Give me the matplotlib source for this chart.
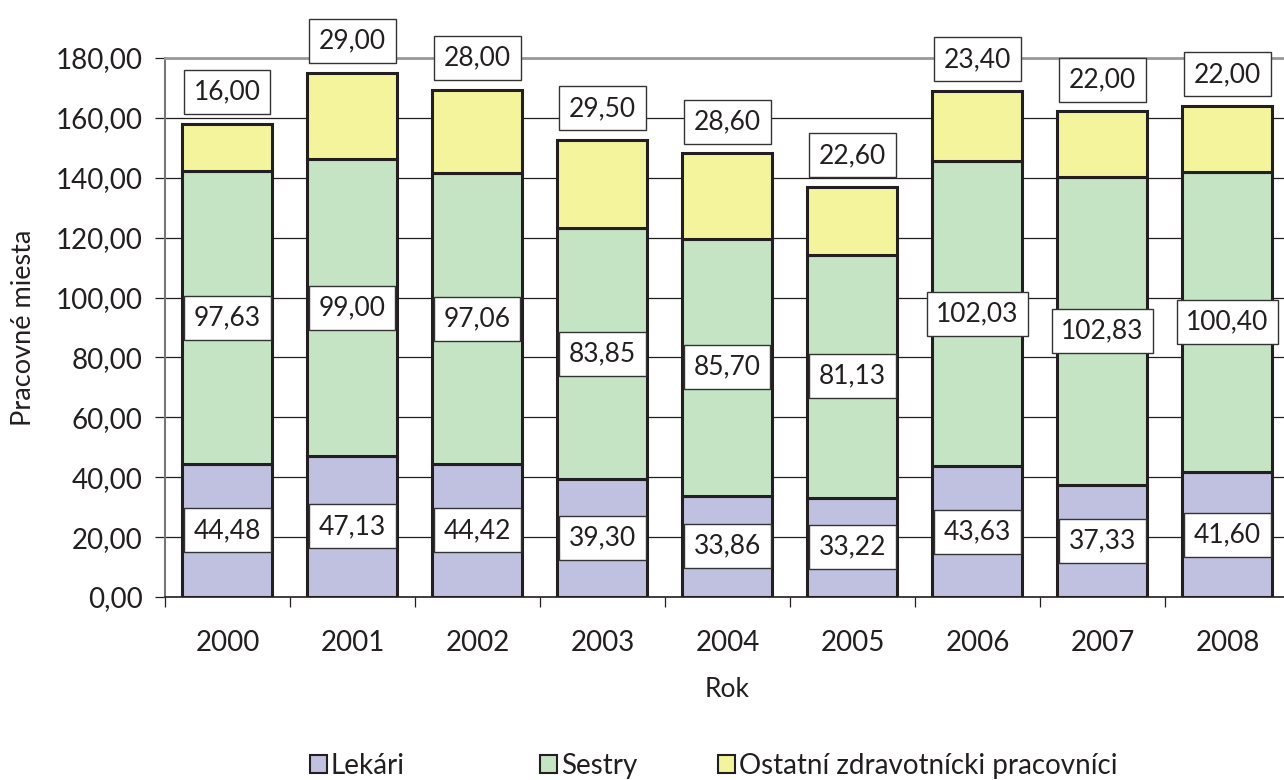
import numpy as np
import matplotlib
matplotlib.use("Agg")
import matplotlib.pyplot as plt
from matplotlib.patches import Patch

years = ["2000", "2001", "2002", "2003", "2004", "2005", "2006", "2007", "2008"]
lekari = [44.48, 47.13, 44.42, 39.30, 33.86, 33.22, 43.63, 37.33, 41.60]
sestry = [97.63, 99.00, 97.06, 83.85, 85.70, 81.13, 102.03, 102.83, 100.40]
ostatni = [16.00, 29.00, 28.00, 29.50, 28.60, 22.60, 23.40, 22.00, 22.00]
series_names = ["Lekári", "Sestry", "Ostatní zdravotnícki pracovníci"]

plt.rcParams['font.family'] = ['Lato', 'DejaVu Sans']

def fmt(v):
    return f"{v:.2f}".replace(".", ",")

fig = plt.figure(figsize=(12.84, 7.8), dpi=100)
ax = fig.add_axes([165 / 1284, 1 - 597 / 780, 1125 / 1284, 539 / 780])

x = np.arange(len(years))
w = 0.72
edge = "#231f20"
txt = "#231f20"
colors = ["#c0c0e0", "#c4e4c4", "#f4f49c"]

lek = np.array(lekari)
ses = np.array(sestry)
ost = np.array(ostatni)

ax.bar(x, lek, w, color=colors[0], edgecolor=edge, linewidth=2.2, zorder=3)
ax.bar(x, ses, w, bottom=lek, color=colors[1], edgecolor=edge, linewidth=2.2, zorder=3)
ax.bar(x, ost, w, bottom=lek + ses, color=colors[2], edgecolor=edge, linewidth=2.2, zorder=3)

box = dict(boxstyle="square,pad=0.36", facecolor="white", edgecolor="#333333", linewidth=1.0)
for i in range(len(years)):
    ax.text(x[i], lek[i] / 2, fmt(lek[i]), ha="center", va="center", fontsize=19,
            bbox=box, zorder=5, color=txt)
    ax.text(x[i], lek[i] + ses[i] / 2, fmt(ses[i]), ha="center", va="center", fontsize=19,
            bbox=box, zorder=5, color=txt)
    ax.text(x[i], lek[i] + ses[i] + ost[i] + 10.5, fmt(ost[i]), ha="center", va="center",
            fontsize=19, bbox=box, zorder=5, color=txt)

ax.set_ylim(0, 180)
ax.set_xlim(-0.5, len(years) - 0.5)
yt = np.arange(0, 181, 20)
ax.set_yticks(yt)
ax.set_yticklabels([fmt(v) for v in yt], fontsize=20, color=txt)
ax.yaxis.grid(True, color="#231f20", linewidth=0.9, zorder=0)
ax.set_axisbelow(True)

ax.set_xticks(x)
ax.set_xticklabels(years, fontsize=20, color=txt)
ax.set_xticks(np.arange(-0.5, len(years), 1), minor=True)
ax.tick_params(axis="x", which="major", length=0, pad=24)
ax.tick_params(axis="x", which="minor", length=7, width=0.9, color="#231f20", direction="out")
ax.tick_params(axis="y", length=7, width=0.9, color="#231f20", pad=9)

ax.spines["right"].set_visible(False)
ax.spines["top"].set_color("#999999")
ax.spines["top"].set_linewidth(2)
ax.spines["left"].set_color("#777777")
ax.spines["left"].set_linewidth(1.5)
ax.spines["bottom"].set_color("#231f20")
ax.spines["bottom"].set_linewidth(1.2)

ax.set_ylabel("Pracovné miesta", fontsize=19.5, color=txt, labelpad=14)
ax.set_xlabel("Rok", fontsize=19, color=txt, labelpad=15)

# legend entries placed individually (Excel-like uneven spacing)
leg_x = [310, 540, 718]
for name, col, lx in zip(series_names, colors, leg_x):
    h = Patch(facecolor=col, edgecolor=edge, linewidth=1.5)
    fig.legend([h], [name], loc="center left", bbox_to_anchor=(lx / 1284, 1 - 766 / 780),
               frameon=False, fontsize=20, handlelength=0.6, handleheight=0.6,
               handletextpad=0.15, borderpad=0, borderaxespad=0, labelcolor=txt)

fig.savefig("out.png", dpi=100)
